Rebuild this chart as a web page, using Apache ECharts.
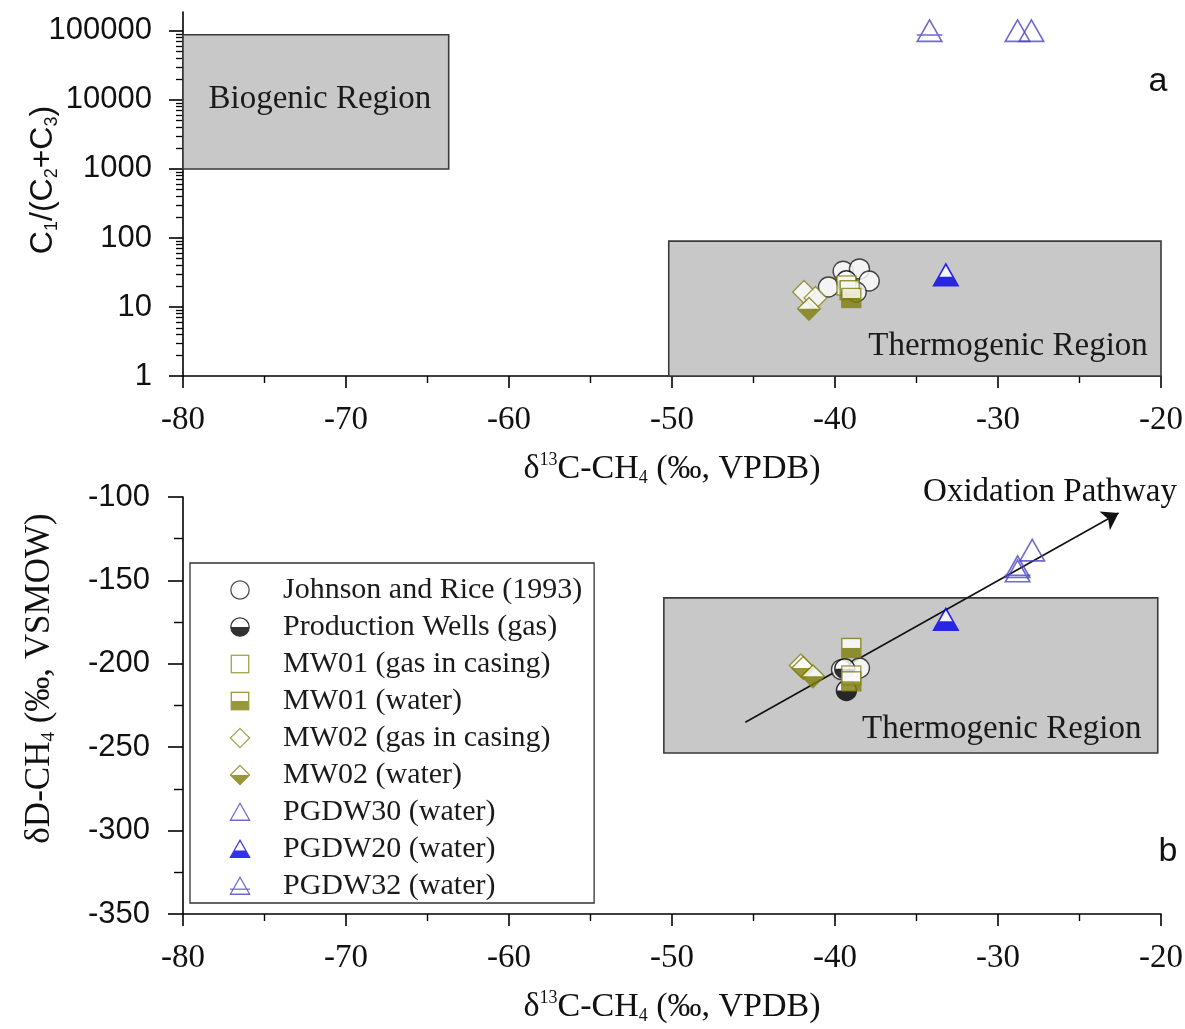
<!DOCTYPE html>
<html><head><meta charset="utf-8">
<script src="https://cdn.jsdelivr.net/npm/echarts@6/dist/echarts.min.js"></script>
<style>html,body{margin:0;padding:0;background:#fff}#chart{width:1185px;height:1029px}</style>
</head><body><div id="chart"></div>
<script>
// ================= DATA =================
const seriesNames = ['Johnson and Rice (1993)', 'Production Wells (gas)', 'MW01 (gas in casing)', 'MW01 (water)',
  'MW02 (gas in casing)', 'MW02 (water)', 'PGDW30 (water)', 'PGDW20 (water)', 'PGDW32 (water)'];

// Panel a: [δ13C-CH4, C1/(C2+C3)]
const johnsonRiceA = [[-40.4, 19.5], [-39.5, 33], [-38.5, 35.6], [-37.9, 23.8], [-38.7, 16.5]];
const prodWellsA   = [[-39.3, 24]];
const mw01GasA     = [[-39.3, 20.5]];
const mw01WaterA   = [[-39.1, 17.5], [-39.0, 13.5]];
const mw02GasA     = [[-41.9, 16.5], [-41.2, 13.5]];
const mw02WaterA   = [[-41.6, 9.4]];
const pgdw30A      = [[-28.8, 100000], [-27.95, 100000]];
const pgdw20A      = [[-33.2, 29]];
const pgdw32A      = [[-34.2, 100000]];

// Panel b: [δ13C-CH4, δD-CH4]
const johnsonRiceB = [[-39.6, -203.5], [-38.5, -202.5]];
const prodWellsB   = [[-39.4, -203], [-39.3, -216]];
const mw01GasB     = [[-39.0, -207]];
const mw01WaterB   = [[-39.0, -190.5], [-39.0, -210.5]];
const mw02GasB     = [[-42.1, -201]];
const mw02WaterB   = [[-41.95, -202.5], [-41.35, -207.5]];
const pgdw30B      = [[-27.9, -132], [-28.8, -142]];
const pgdw20B      = [[-33.2, -173.5]];
const pgdw32B      = [[-28.8, -144.5]];

// Regions and pathway (data units)
const biogenicA    = [[-80, 1000], [-63.7, 88000]];
const thermogenicA = [[-50.2, 1], [-20, 90]];
const thermogenicB = [[-50.5, -160.5], [-20.2, -253.5]];
const oxidationPathway = [[-45.5, -235], [-22.6, -109.6]];

// Axis ticks
const xMin = -80, xMax = -20, xInterval = 10;
const yAMin = 1, yAMax = 188000;
const yALogMinorTicks = [2,3,4,5,6,7,8,9, 20,30,40,50,60,70,80,90, 200,300,400,500,600,700,800,900,
  2000,3000,4000,5000,6000,7000,8000,9000, 20000,30000,40000,50000,60000,70000,80000,90000];
const yBMin = -350, yBMax = -100, yBInterval = 50;

// ================= SYMBOLS =================
const OL = '#7f7f0a', OLS = '#8a8a22', BL = '#0000e6', PU = '#4a46c4';
function svgSym(inner) {
  return 'image://data:image/svg+xml;charset=utf-8,' + encodeURIComponent(
    '<svg xmlns="http://www.w3.org/2000/svg" width="96" height="96" viewBox="0 0 24 24">' + inner + '</svg>');
}
const symbols = {
  'Johnson and Rice (1993)': svgSym('<circle cx="12" cy="12" r="10" fill="#fff" stroke="#222" stroke-width="1.4"/>'),
  'Production Wells (gas)': svgSym('<circle cx="12" cy="12" r="10" fill="#fff"/><path d="M2,12 A10,10 0 0 0 22,12 Z" fill="#000"/><circle cx="12" cy="12" r="10" fill="none" stroke="#000" stroke-width="1.4"/>'),
  'MW01 (gas in casing)': svgSym('<rect x="2.5" y="2.5" width="19" height="19" fill="#fff" stroke="' + OLS + '" stroke-width="1.4"/>'),
  'MW01 (water)': svgSym('<rect x="2.5" y="2.5" width="19" height="19" fill="#fff"/><rect x="2.5" y="12" width="19" height="9.5" fill="' + OL + '"/><rect x="2.5" y="2.5" width="19" height="19" fill="none" stroke="' + OL + '" stroke-width="1.4"/>'),
  'MW02 (gas in casing)': svgSym('<path d="M12,1.5 L22.5,12 L12,22.5 L1.5,12 Z" fill="#fff" stroke="' + OLS + '" stroke-width="1.3"/>'),
  'MW02 (water)': svgSym('<path d="M12,1.5 L22.5,12 L12,22.5 L1.5,12 Z" fill="#fff"/><path d="M1.5,12 L22.5,12 L12,22.5 Z" fill="' + OL + '"/><path d="M12,1.5 L22.5,12 L12,22.5 L1.5,12 Z" fill="none" stroke="' + OL + '" stroke-width="1.3"/>'),
  'PGDW30 (water)': svgSym('<path d="M12,2.5 L22.5,21 L1.5,21 Z" fill="none" stroke="' + PU + '" stroke-width="1.4"/>'),
  'PGDW20 (water)': svgSym('<path d="M12,2.5 L22.5,21 L1.5,21 Z" fill="#fff"/><path d="M5.76,13.5 L18.24,13.5 L22.5,21 L1.5,21 Z" fill="' + BL + '"/><path d="M12,2.5 L22.5,21 L1.5,21 Z" fill="none" stroke="' + BL + '" stroke-width="1.4"/>'),
  'PGDW32 (water)': svgSym('<path d="M12,2.5 L22.5,21 L1.5,21 Z" fill="none" stroke="' + PU + '" stroke-width="1.4"/><path d="M1,15.5 L23,15.5" stroke="' + PU + '" stroke-width="1.4"/>')
};
const symbolSizes = {
  'Johnson and Rice (1993)': 24, 'Production Wells (gas)': 24, 'MW01 (gas in casing)': 24, 'MW01 (water)': 24,
  'MW02 (gas in casing)': 26, 'MW02 (water)': 26, 'PGDW30 (water)': 28, 'PGDW20 (water)': 28, 'PGDW32 (water)': 28
};
const dataA = [johnsonRiceA, prodWellsA, mw01GasA, mw01WaterA, mw02GasA, mw02WaterA, pgdw30A, pgdw20A, pgdw32A];
const dataB = [johnsonRiceB, prodWellsB, mw01GasB, mw01WaterB, mw02GasB, mw02WaterB, pgdw30B, pgdw20B, pgdw32B];

// ================= STYLE HELPERS =================
const SERIF = 'Liberation Serif', SANS = 'Liberation Sans';
const axisLineStyle = { show: true, onZero: false, lineStyle: { color: '#000', width: 1.6 } };
function xAxisDef(gridIndex, margin, nameGap) {
  return {
    gridIndex, type: 'value', min: xMin, max: xMax, interval: xInterval,
    axisLine: axisLineStyle,
    axisTick: { show: true, inside: false, length: 12, lineStyle: { color: '#000', width: 1.6 } },
    minorTick: { show: true, splitNumber: 2, length: 7, lineStyle: { color: '#000', width: 1.4 } },
    splitLine: { show: false }, minorSplitLine: { show: false },
    axisLabel: { fontFamily: SERIF, fontSize: 33, color: '#111', margin },
    name: '{n|δ}{sup|13}{n|C-CH}{sub|4}{n| (‰, VPDB)}',
    nameLocation: 'middle', nameGap, nameMoveOverlap: false,
    nameTextStyle: {
      rich: {
        n: { fontFamily: SERIF, fontSize: 34, color: '#111', lineHeight: 36 },
        sup: { fontFamily: SERIF, fontSize: 18, color: '#111', verticalAlign: 'top', lineHeight: 18 },
        sub: { fontFamily: SERIF, fontSize: 18, color: '#111', verticalAlign: 'bottom', lineHeight: 18 }
      }
    }
  };
}

// ================= SERIES =================
const series = [];
seriesNames.forEach((nm, i) => {
  series.push({ name: nm, type: 'scatter', xAxisIndex: 0, yAxisIndex: 0, symbol: symbols[nm], symbolSize: symbolSizes[nm], data: dataA[i], z: 5 });
  series.push({ name: nm, type: 'scatter', xAxisIndex: 1, yAxisIndex: 2, symbol: symbols[nm], symbolSize: symbolSizes[nm], data: dataB[i], z: 5 });
});
const regionStyle = { color: '#c8c8c8', borderColor: '#3a3a3a', borderWidth: 1.6 };
const regionLabel = { fontFamily: SERIF, fontSize: 33, color: '#1a1a1a' };
series.push({
  name: 'regionsA', type: 'scatter', xAxisIndex: 0, yAxisIndex: 0, data: [], z: 1, silent: true,
  markArea: {
    silent: true, itemStyle: regionStyle,
    data: [
      [{ coord: biogenicA[0], name: 'Biogenic Region', label: Object.assign({ show: true, position: 'inside', offset: [4, -3] }, regionLabel) }, { coord: biogenicA[1] }],
      [{ coord: thermogenicA[0], name: 'Thermogenic Region', label: Object.assign({ show: true, position: 'insideBottomRight', distance: 14 }, regionLabel) }, { coord: thermogenicA[1] }]
    ]
  }
});
series.push({
  name: 'regionsB', type: 'scatter', xAxisIndex: 1, yAxisIndex: 2, data: [], z: 1, silent: true,
  markArea: {
    silent: true, itemStyle: regionStyle,
    data: [
      [{ coord: thermogenicB[0], name: 'Thermogenic Region', label: Object.assign({ show: true, position: 'insideBottomRight', distance: 12, offset: [-5, 4] }, regionLabel) }, { coord: thermogenicB[1] }]
    ]
  },
  markLine: {
    silent: true, symbol: ['none', 'arrow'], symbolSize: 16,
    lineStyle: { color: '#111', width: 1.6, type: 'solid' }, label: { show: false },
    data: [[{ coord: oxidationPathway[0] }, { coord: oxidationPathway[1] }]]
  }
});

const option = {
  animation: false,
  backgroundColor: '#fff',
  grid: [
    { left: 183, right: 24, top: 12, bottom: 653, outerBoundsMode: 'none', containLabel: false },
    { left: 183, right: 24, top: 497, bottom: 115, outerBoundsMode: 'none', containLabel: false }
  ],
  xAxis: [xAxisDef(0, 28, 75), xAxisDef(1, 28, 75)],
  yAxis: [
    {
      gridIndex: 0, type: 'log', logBase: 10, min: yAMin, max: yAMax, position: 'left',
      axisLine: axisLineStyle,
      axisTick: { show: true, inside: false, length: 14, lineStyle: { color: '#000', width: 1.6 } },
      splitLine: { show: false },
      axisLabel: { fontFamily: SANS, fontSize: 31, color: '#111', margin: 31, showMaxLabel: false,
        formatter: v => String(Math.round(v)) },
      name: '{n|C}{sub|1}{n|/(C}{sub|2}{n|+C}{sub|3}{n|)}',
      nameLocation: 'middle', nameGap: 122, nameMoveOverlap: false,
      nameTextStyle: {
        padding: [0, 0, 0, 28],
        rich: {
          n: { fontFamily: SANS, fontSize: 32, color: '#111', lineHeight: 36 },
          sub: { fontFamily: SANS, fontSize: 18, color: '#111', verticalAlign: 'bottom', lineHeight: 18 }
        }
      }
    },
    {
      gridIndex: 0, type: 'value', min: 0, max: Math.log10(yAMax), position: 'left',
      axisLine: { show: false }, axisLabel: { show: false }, splitLine: { show: false },
      axisTick: { show: true, inside: false, length: 7, customValues: yALogMinorTicks.map(v => Math.log10(v)),
        lineStyle: { color: '#000', width: 1.3 } }
    },
    {
      gridIndex: 1, type: 'value', min: yBMin, max: yBMax, interval: yBInterval, position: 'left',
      axisLine: axisLineStyle,
      axisTick: { show: true, inside: false, length: 15, lineStyle: { color: '#000', width: 1.6 } },
      minorTick: { show: true, splitNumber: 2, length: 9, lineStyle: { color: '#000', width: 1.4 } },
      splitLine: { show: false }, minorSplitLine: { show: false },
      axisLabel: { fontFamily: SANS, fontSize: 31, color: '#111', margin: 33 },
      name: '{n|δD-CH}{sub|4}{n| (‰, VSMOW)}',
      nameLocation: 'middle', nameGap: 124, nameMoveOverlap: false,
      nameTextStyle: {
        padding: [0, 0, 0, 54],
        rich: {
          n: { fontFamily: SERIF, fontSize: 35, color: '#111', lineHeight: 38 },
          sub: { fontFamily: SERIF, fontSize: 19, color: '#111', verticalAlign: 'bottom', lineHeight: 19 }
        }
      }
    }
  ],
  legend: {
    orient: 'vertical', left: 190, top: 563,
    padding: [12, 12, 2, 12],
    itemWidth: 76, itemHeight: 22, itemGap: 7, symbolKeepAspect: true,
    backgroundColor: '#fff', borderColor: '#333', borderWidth: 1.3,
    textStyle: { fontFamily: SERIF, fontSize: 30, color: '#1a1a1a' },
    data: seriesNames, selectedMode: false, z: 10
  },
  graphic: [
    { type: 'text', x: 1158, y: 82, style: { text: 'a', font: '34px "Liberation Sans"', fill: '#111', textAlign: 'center', textVerticalAlign: 'middle' } },
    { type: 'text', x: 1168, y: 852, style: { text: 'b', font: '34px "Liberation Sans"', fill: '#111', textAlign: 'center', textVerticalAlign: 'middle' } },
    { type: 'text', x: 1050, y: 492, style: { text: 'Oxidation Pathway', font: '33px "Liberation Serif"', fill: '#111', textAlign: 'center', textVerticalAlign: 'middle' } }
  ],
  series
};
const chart = echarts.init(document.getElementById('chart'));
chart.setOption(option);
</script></body></html>
